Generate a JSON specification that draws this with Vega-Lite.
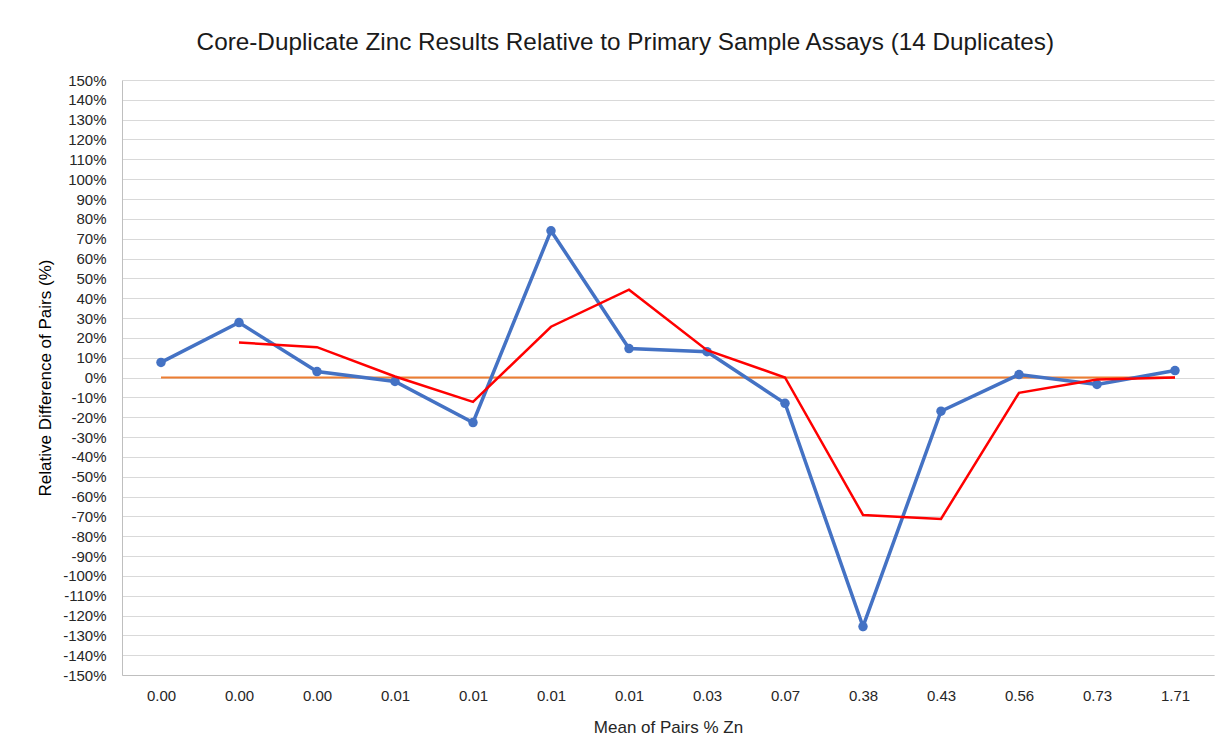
{
  "$schema": "https://vega.github.io/schema/vega-lite/v6.json",
  "width": 1092,
  "height": 595,
  "autosize": {"type": "none"},
  "padding": {"left": 122, "top": 80, "right": 11, "bottom": 80},
  "background": "white",
  "title": {
    "text": "Core-Duplicate Zinc Results Relative to Primary Sample Assays (14 Duplicates)",
    "font": "Liberation Sans",
    "fontSize": 24.3,
    "fontWeight": "normal",
    "color": "#1a1a1a",
    "anchor": "middle",
    "frame": "bounds",
    "offset": 18
  },
  "config": {
    "view": {"stroke": null},
    "font": "Liberation Sans"
  },
  "data": {
    "values": [
      {"i": 0, "label": "0.00", "rel": 7.6, "ma": null, "zero": 0},
      {"i": 1, "label": "0.00", "rel": 27.7, "ma": 17.6, "zero": 0},
      {"i": 2, "label": "0.00", "rel": 3.0, "ma": 15.3, "zero": 0},
      {"i": 3, "label": "0.01", "rel": -2.0, "ma": 0.5, "zero": 0},
      {"i": 4, "label": "0.01", "rel": -22.7, "ma": -12.3, "zero": 0},
      {"i": 5, "label": "0.01", "rel": 74.0, "ma": 25.6, "zero": 0},
      {"i": 6, "label": "0.01", "rel": 14.6, "ma": 44.3, "zero": 0},
      {"i": 7, "label": "0.03", "rel": 13.0, "ma": 13.8, "zero": 0},
      {"i": 8, "label": "0.07", "rel": -13.0, "ma": 0.0, "zero": 0},
      {"i": 9, "label": "0.38", "rel": -125.6, "ma": -69.3, "zero": 0},
      {"i": 10, "label": "0.43", "rel": -17.0, "ma": -71.3, "zero": 0},
      {"i": 11, "label": "0.56", "rel": 1.5, "ma": -7.7, "zero": 0},
      {"i": 12, "label": "0.73", "rel": -3.5, "ma": -1.0, "zero": 0},
      {"i": 13, "label": "1.71", "rel": 3.5, "ma": 0.0, "zero": 0}
    ]
  },
  "encoding": {
    "x": {
      "field": "i",
      "type": "ordinal",
      "scale": {"paddingInner": 0, "paddingOuter": 0},
      "axis": {
        "title": "Mean of Pairs % Zn",
        "labelExpr": "['0.00','0.00','0.00','0.01','0.01','0.01','0.01','0.03','0.07','0.38','0.43','0.56','0.73','1.71'][datum.value]",
        "labelAngle": 0,
        "labelFontSize": 15,
        "labelColor": "#262626",
        "labelPadding": 13,
        "labelOverlap": false,
        "ticks": false,
        "domainColor": "#bfbfbf",
        "grid": false,
        "titleFontSize": 17,
        "titleFontWeight": "normal",
        "titleColor": "#262626",
        "titlePadding": 16
      }
    }
  },
  "layer": [
    {
      "mark": {"type": "line", "color": "#ED7D31", "strokeWidth": 2},
      "encoding": {
        "y": {
          "field": "zero",
          "type": "quantitative",
          "scale": {"domain": [-150, 150], "nice": false},
          "axis": {
            "title": "Relative Difference of Pairs (%)",
            "values": [-150,-140,-130,-120,-110,-100,-90,-80,-70,-60,-50,-40,-30,-20,-10,0,10,20,30,40,50,60,70,80,90,100,110,120,130,140,150],
            "tickCount": 40,
            "labelExpr": "datum.value + '%'",
            "labelFontSize": 15,
            "labelColor": "#262626",
            "labelPadding": 16,
            "labelOverlap": false,
            "ticks": false,
            "domainColor": "#bfbfbf",
            "gridColor": "#d9d9d9",
            "gridWidth": 1,
            "titleFontSize": 17,
            "titleFontWeight": "normal",
            "titleColor": "#000000",
            "titlePadding": 8
          }
        }
      }
    },
    {
      "mark": {"type": "line", "color": "#4472C4", "strokeWidth": 3.5, "point": {"filled": true, "color": "#4472C4", "size": 90}},
      "encoding": {
        "y": {"field": "rel", "type": "quantitative"}
      }
    },
    {
      "mark": {"type": "line", "color": "#FF0000", "strokeWidth": 2.5},
      "encoding": {
        "y": {"field": "ma", "type": "quantitative"}
      }
    }
  ]
}
